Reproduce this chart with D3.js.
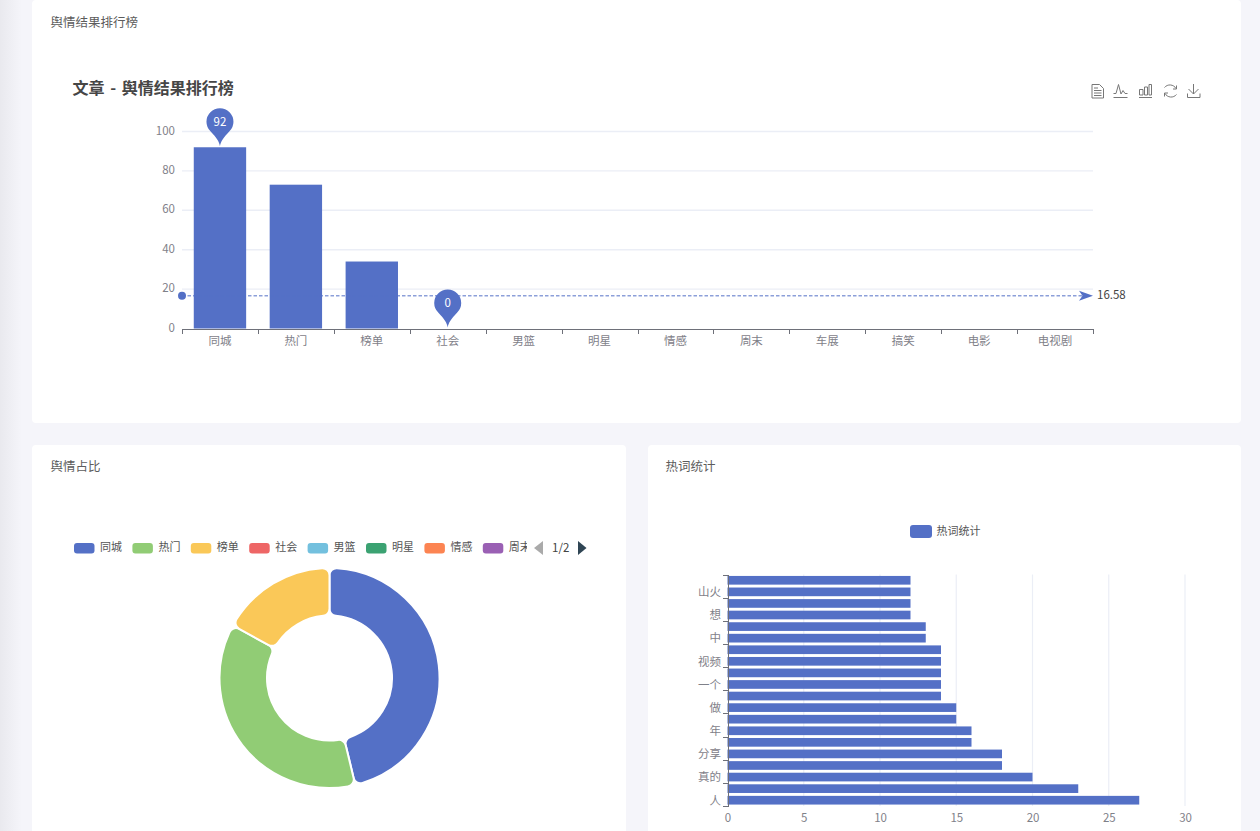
<!DOCTYPE html>
<html>
<head>
<meta charset="utf-8">
<script src="https://cdn.jsdelivr.net/npm/d3@7"></script>
<style>
  html, body { margin: 0; padding: 0; background: #f5f5fa; overflow: hidden; }
  svg { display: block; font-family: "Noto Sans CJK SC", "Noto Sans", sans-serif; }
  .axis path, .axis line { shape-rendering: crispEdges; }
</style>
</head>
<body>
<div id="chart"></div>
<script>
const categories = ['同城', '热门', '榜单', '社会', '男篮', '明星', '情感', '周末', '车展', '搞笑', '电影', '电视剧'];
const counts = [92, 73, 34, 0, 0, 0, 0, 0, 0, 0, 0, 0];
const yTicks = [0, 20, 40, 60, 80, 100];
const palette = ['#5470c6', '#91cc75', '#fac858', '#ee6666', '#73c0de', '#3ba272', '#fc8452', '#9a60b4'];

// bottom to top, the axis only shows every second word
const hotWords = ['人', '', '真的', '', '分享', '', '年', '', '做', '', '一个', '', '视频', '', '中', '', '想', '', '山火', ''];
const hotCounts = [27, 23, 20, 18, 18, 16, 16, 15, 15, 14, 14, 14, 14, 14, 13, 13, 12, 12, 12, 12];
const hotTicks = [0, 5, 10, 15, 20, 25, 30];

const blue = palette[0], axisGrey = '#6E7079', labelGrey = '#7f8189', gridGrey = '#EBEEF6';

const svg = d3.select('#chart').append('svg').attr('width', 1260).attr('height', 831);

// page background, darker strip on the left
const grad = svg.append('defs').append('linearGradient').attr('id', 'side');
grad.append('stop').attr('offset', 0).attr('stop-color', '#e9e9ee');
grad.append('stop').attr('offset', 1).attr('stop-color', '#f5f5fa');
svg.append('rect').attr('width', 1260).attr('height', 831).attr('fill', '#f5f5fa');
svg.append('rect').attr('width', 22).attr('height', 831).attr('fill', 'url(#side)');

function card(x, y, w, h, title, titleX) {
  svg.append('rect').attr('x', x).attr('y', y).attr('width', w).attr('height', h).attr('rx', 4).attr('fill', '#fff');
  svg.append('text').attr('x', titleX).attr('y', Math.max(y, 1) + 21.5).attr('dy', '0.35em')
    .attr('font-size', 12.5).attr('fill', '#5c5c5c').text(title);
}
card(32, 0, 1209, 423, '舆情结果排行榜', 50.5);
card(32, 445, 594, 400, '舆情占比', 50.5);
card(648, 445, 593, 400, '热词统计', 665.5);

function styleAxis(g) {
  g.attr('class', 'axis');
  g.selectAll('text').attr('font-size', 11.5).attr('fill', labelGrey)
    .attr('font-family', '"Noto Sans CJK SC", sans-serif');
}

/* ---------- top bar chart ---------- */
svg.append('text').attr('x', 72.5).attr('y', 88.5).attr('dy', '0.35em')
  .attr('font-size', 16).attr('font-weight', 700).attr('word-spacing', 2).attr('fill', '#464646').text('文章 - 舆情结果排行榜');

const x = d3.scaleBand().domain(categories).range([182, 1093]).paddingInner(0.31).paddingOuter(0.155);
const y = d3.scaleLinear().domain([0, 100]).range([328.5, 131.5]);

svg.append('g').selectAll('line').data(yTicks.slice(1)).join('line')
  .attr('x1', 182).attr('x2', 1093)
  .attr('y1', d => y(d)).attr('y2', d => y(d))
  .attr('stroke', gridGrey).attr('stroke-width', 1.4);

svg.append('g').attr('transform', 'translate(175,-1)')
  .call(d3.axisLeft(y).tickValues(yTicks).tickSize(0).tickPadding(0))
  .call(styleAxis).call(g => g.select('.domain').remove());

svg.append('g').selectAll('rect').data(categories).join('rect')
  .attr('x', d => x(d)).attr('width', x.bandwidth())
  .attr('y', (d, i) => y(counts[i])).attr('height', (d, i) => y(0) - y(counts[i]))
  .attr('fill', blue);

// band edges for the ticks, band scale for the labels
const xEdges = d3.scalePoint().domain(d3.range(categories.length + 1)).range([182, 1093]);
svg.append('g').attr('transform', `translate(0,${y(0)})`)
  .call(d3.axisBottom(xEdges).tickSize(5).tickFormat('').tickSizeOuter(0))
  .call(styleAxis)
  .call(g => g.selectAll('path,line').attr('stroke', axisGrey));
svg.append('g').attr('transform', `translate(0,${y(0) + 5})`)
  .call(d3.axisBottom(x).tickSize(0).tickPadding(0))
  .call(styleAxis).call(g => g.select('.domain').remove())
  .call(g => g.selectAll('text').attr('y', 7).attr('dy', '0.35em'));

// mean line
const mean = d3.mean(counts);
svg.append('line').attr('x1', 182).attr('x2', 1083).attr('y1', y(mean)).attr('y2', y(mean))
  .attr('stroke', blue).attr('stroke-dasharray', '3.5,2');
svg.append('circle').attr('cx', 182).attr('cy', y(mean)).attr('r', 4).attr('fill', blue);
svg.append('path').attr('transform', `translate(1093,${y(mean)})`)
  .attr('d', 'M0,0L-14,-5L-10.5,0L-14,5Z').attr('fill', blue);
svg.append('text').attr('x', 1097).attr('y', y(mean) - 1).attr('dy', '0.35em')
  .attr('font-size', 11.5).attr('fill', '#444').text(mean.toFixed(2));

// max and min pins
const pinShape = 'M0,0C-1,-5 -3,-8 -9.5,-14.9A13.5,13.5 0 1 1 9.5,-14.9C3,-8 1,-5 0,0Z';
[d3.max(counts), d3.min(counts)].forEach(v => {
  const cat = categories[counts.indexOf(v)];
  const pin = svg.append('g').attr('transform', `translate(${x(cat) + x.bandwidth() / 2},${y(v) - 1})`);
  pin.append('path').attr('d', pinShape).attr('fill', blue);
  pin.append('text').attr('y', -24.5).attr('dy', '0.35em').attr('text-anchor', 'middle')
    .attr('font-size', 11.5).attr('fill', '#fff').text(v);
});

// toolbox
const tools = svg.append('g').attr('fill', 'none').attr('stroke', '#777').attr('stroke-width', 1);
tools.append('path').attr('d', 'M1092,84.5H1099.5L1103.5,88.5V98H1092ZM1094,88H1098M1094,90.5H1101.5M1094,93H1101.5M1094,95.5H1101.5');
tools.append('path').attr('d', 'M1113.5,97.5H1127.5M1113.5,93.5H1116L1118.5,84.5L1121,94L1123,90.5L1125,93.5H1127.5');
tools.append('path').attr('d', 'M1139,97.5H1152M1139.5,89.5H1143V95H1139.5ZM1144.5,87H1147.5V95H1144.5ZM1149,84.5H1151.5V95H1149Z');
tools.append('path').attr('d', 'M1164.5,87.5A7,7 0 0 1 1176,88.5M1176.5,94.5A7,7 0 0 1 1165,93.5M1176.5,85.5V89H1173M1164.5,96.5V93H1168');
tools.append('path').attr('d', 'M1193.5,84V94M1188.5,89L1193.5,94L1198.5,89M1187.5,93.5V97.5H1200V93.5');

/* ---------- donut ---------- */
const legendClip = svg.append('clipPath').attr('id', 'legend-clip');
legendClip.append('rect').attr('x', 60).attr('y', 530).attr('width', 467).attr('height', 36);

const legend = svg.append('g').attr('clip-path', 'url(#legend-clip)');
const legendStep = d3.scaleLinear().domain([0, 1]).range([74, 132.4]);
palette.forEach((c, i) => {
  legend.append('rect').attr('x', legendStep(i)).attr('y', 543).attr('width', 20.5).attr('height', 10.5).attr('rx', 3).attr('fill', c);
  legend.append('text').attr('x', legendStep(i) + 26).attr('y', 547.5).attr('dy', '0.35em')
    .attr('font-size', 11).attr('fill', '#555').text(categories[i]);
});
svg.append('path').attr('d', 'M534,548L543,541V555Z').attr('fill', '#aaa');
svg.append('text').attr('x', 552).attr('y', 547.5).attr('dy', '0.35em').attr('font-size', 11.5).attr('fill', '#444').text('1/2');
svg.append('path').attr('d', 'M586.5,548L578,541V555Z').attr('fill', '#2f4554');

const pie = d3.pie().sort(null)(counts);
const arc = d3.arc().innerRadius(62.5).outerRadius(110).cornerRadius(7);
svg.append('g').attr('transform', 'translate(329.5,678)')
  .selectAll('path').data(pie.filter(d => d.value > 0)).join('path')
  .attr('d', arc).attr('fill', d => palette[d.index])
  .attr('stroke', '#fff').attr('stroke-width', 2);

/* ---------- hot word bars ---------- */
svg.append('rect').attr('x', 910).attr('y', 525).attr('width', 22).attr('height', 13).attr('rx', 3).attr('fill', blue);
svg.append('text').attr('x', 936.5).attr('y', 531.5).attr('dy', '0.35em').attr('font-size', 11).attr('fill', '#555').text('热词统计');

const hx = d3.scaleLinear().domain([0, 30]).range([727.5, 1185]);
const hy = d3.scaleBand().domain(d3.range(hotWords.length)).range([806, 574.5]).paddingInner(0.25).paddingOuter(0.125);

svg.append('g').selectAll('line').data(hotTicks.slice(1)).join('line')
  .attr('x1', d => hx(d)).attr('x2', d => hx(d)).attr('y1', 574.5).attr('y2', 806)
  .attr('stroke', gridGrey).attr('stroke-width', 1.2);

svg.append('g').selectAll('rect').data(hotCounts).join('rect')
  .attr('x', hx(0)).attr('width', d => hx(d) - hx(0))
  .attr('y', (d, i) => hy(i)).attr('height', hy.bandwidth())
  .attr('fill', blue);

svg.append('g').attr('transform', 'translate(0,806)')
  .call(d3.axisBottom(hx).tickValues(hotTicks).tickSize(0).tickPadding(0))
  .call(styleAxis).call(g => g.select('.domain').remove())
  .call(g => g.selectAll('text').attr('y', 12).attr('dy', '0.35em'));

const hyEdges = d3.scalePoint().domain(d3.range(hotWords.length + 1)).range([806, 574.5]);
svg.append('g').attr('transform', 'translate(727.5,0)')
  .call(d3.axisLeft(hyEdges).tickValues(d3.range(0, hotWords.length + 1, 2)).tickSize(5).tickFormat('').tickSizeOuter(0))
  .call(styleAxis)
  .call(g => g.selectAll('path,line').attr('stroke', axisGrey));

// word sits on the gap line of its two-band group
const hyLabels = d3.scalePoint().domain(d3.range(hotWords.length + 1)).range([800.5, 569]);
svg.append('g').selectAll('text').data(hotWords).join('text')
  .attr('x', 721).attr('y', (d, i) => hyLabels(i)).attr('dy', '0.35em')
  .attr('text-anchor', 'end').attr('font-size', 11.5).attr('fill', labelGrey).text(d => d);
</script>
</body>
</html>
